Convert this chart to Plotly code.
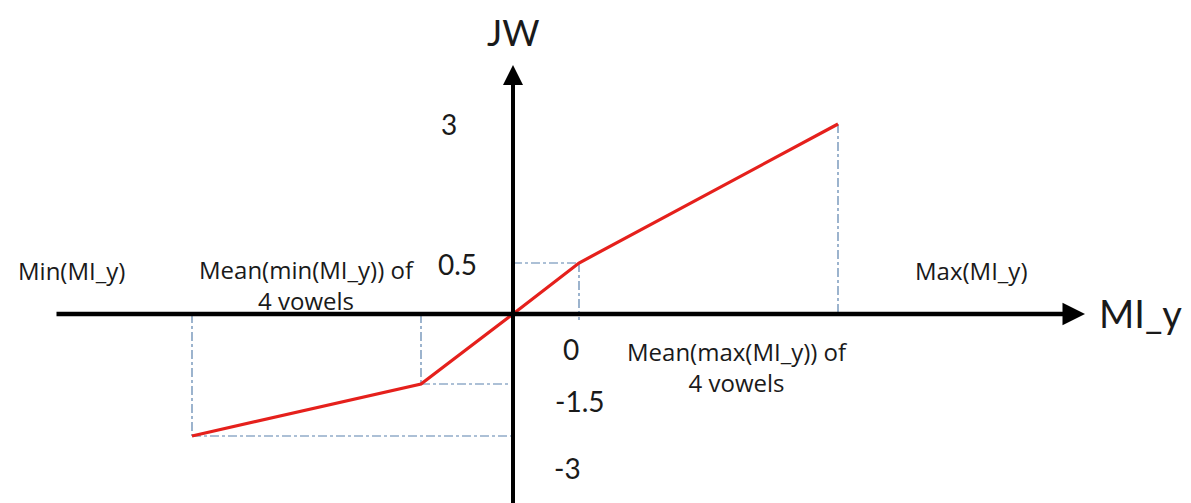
import numpy as np
import plotly.graph_objects as go

# Breakpoints of the JW mapping along the MI_y axis (schematic positions)
mi_y_points = [-3.21, -0.92, 0.0, 0.66, 3.25]
jw_values = [-3.0, -1.5, 0.0, 0.5, 3.0]

# JW axis is drawn as a broken (piecewise-linear) scale
jw_knots = [-3.0, -1.5, 0.0, 0.5, 3.0]
jw_span = [-1.22, -0.70, 0.0, 0.51, 1.90]

jw_tick_labels = ["3", "0.5", "-1.5", "-3"]


def jw_scale(v):
    return np.interp(v, jw_knots, jw_span)


jw_drawn = jw_scale(np.array(jw_values))

FONT = "Lato, 'Open Sans', sans-serif"
TEXT_FONT = "'Open Sans', Lato, sans-serif"
RED = "#e5201c"
GUIDE = "#5b82ad"

fig = go.Figure()

# Dash-dot guide lines from each breakpoint back to the axes
xmin, xmm, x0, xmx, xmax = mi_y_points
ymin, ymm, y0, ymx, ymax = jw_drawn
guides = [
    ((xmin, xmin), (0, ymin)),
    ((xmin, 0), (ymin, ymin)),
    ((xmm, xmm), (0.0, ymm)),
    ((xmm, 0), (ymm, ymm)),
    ((0, xmx), (ymx, ymx)),
    ((xmx, xmx), (ymx, -0.06)),
    ((xmax, xmax), (ymax, 0)),
]
for gx, gy in guides:
    fig.add_trace(go.Scatter(
        x=list(gx), y=list(gy), mode="lines",
        line=dict(color=GUIDE, width=1.2, dash="dashdot"),
        hoverinfo="skip", showlegend=False,
    ))

# Coordinate axes with arrowheads
fig.add_annotation(x=5.72, y=0, ax=-4.58, ay=0, xref="x", yref="y",
                   axref="x", ayref="y", showarrow=True, arrowhead=2,
                   arrowsize=1.0, arrowwidth=4.5, arrowcolor="black", text="")
fig.add_annotation(x=0, y=2.49, ax=0, ay=-1.95, xref="x", yref="y",
                   axref="x", ayref="y", showarrow=True, arrowhead=2,
                   arrowsize=1.0, arrowwidth=4, arrowcolor="black", text="")

# Piecewise-linear JW curve
fig.add_trace(go.Scatter(
    x=mi_y_points, y=jw_drawn, mode="lines",
    line=dict(color=RED, width=3.2),
    hoverinfo="skip", showlegend=False,
))


def label(x, y, text, size, family=FONT):
    fig.add_annotation(x=x, y=y, xref="x", yref="y", text=text,
                       showarrow=False, align="center",
                       font=dict(family=family, size=size, color="#1a1a1a"))


label(0.0, 2.82, "JW", 36)
label(6.27, 0.01, "MI_y", 38)

# JW tick labels (placed beside the axis)
label(-0.64, 1.90, jw_tick_labels[0], 28)
label(-0.56, 0.50, jw_tick_labels[1], 28)
label(0.67, -0.87, jw_tick_labels[2], 28)
label(0.54, -1.54, jw_tick_labels[3], 28)
label(0.58, -0.35, "0", 28)

# Descriptions of the MI_y breakpoints
label(-4.42, 0.44, "Min(MI_y)", 24, TEXT_FONT)
label(-2.06, 0.295, "Mean(min(MI_y)) of<br>4 vowels", 24, TEXT_FONT)
label(2.24, -0.525, "Mean(max(MI_y)) of<br>4 vowels", 24, TEXT_FONT)
label(4.58, 0.44, "Max(MI_y)", 24, TEXT_FONT)

fig.update_layout(
    width=1191, height=503,
    margin=dict(l=0, r=0, t=0, b=0),
    paper_bgcolor="white", plot_bgcolor="white",
    xaxis=dict(range=[-5.13, 6.78], visible=False, fixedrange=True),
    yaxis=dict(range=[-1.89, 3.14], visible=False, fixedrange=True),
    showlegend=False,
)

fig.write_html("out.html")
